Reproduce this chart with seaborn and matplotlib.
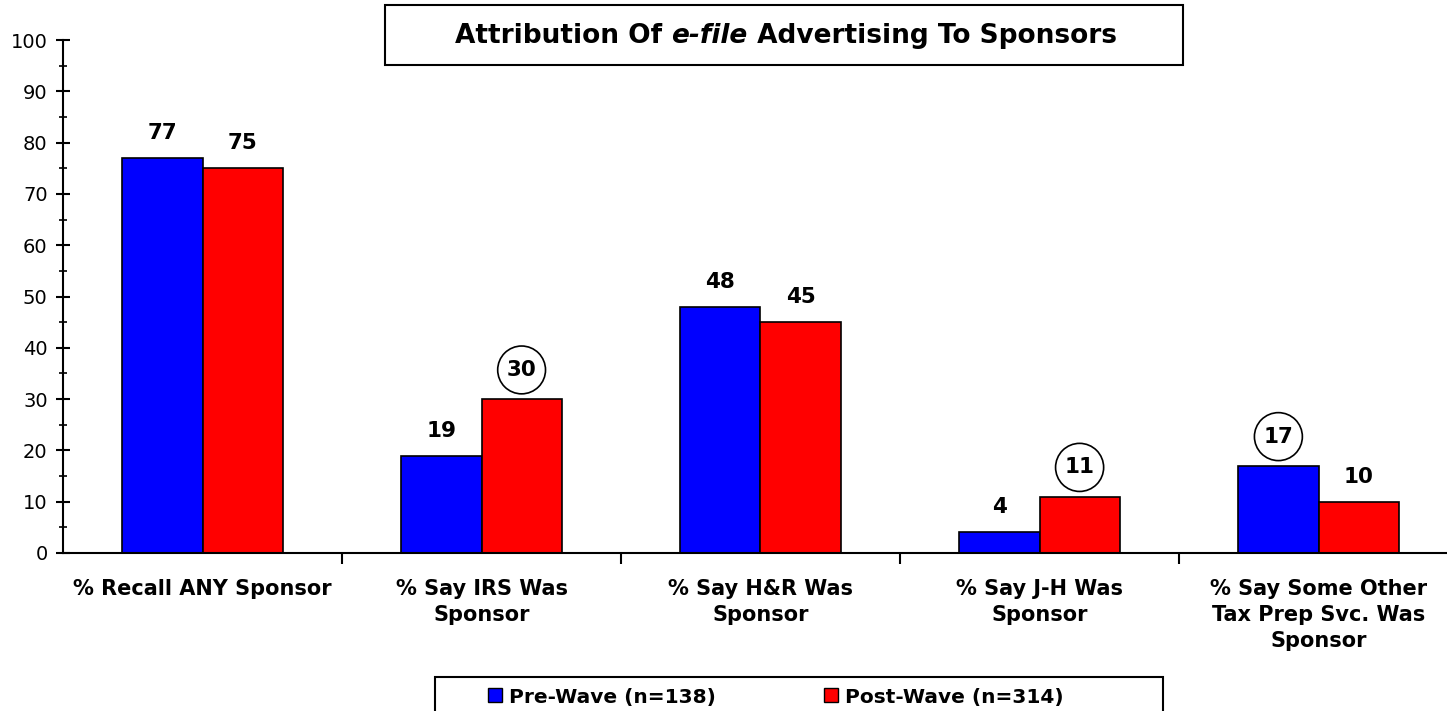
import matplotlib
matplotlib.use("Agg")
import matplotlib.pyplot as plt
import seaborn as sns
import pandas as pd
from matplotlib.patches import Rectangle, Patch
from matplotlib.ticker import MultipleLocator, FixedLocator

categories = ["% Recall ANY Sponsor", "% Say IRS Was\nSponsor", "% Say H&R Was\nSponsor",
              "% Say J-H Was\nSponsor", "% Say Some Other\nTax Prep Svc. Was\nSponsor"]
series_names = ["Pre-Wave (n=138)", "Post-Wave (n=314)"]
pre_values = [77, 19, 48, 4, 17]
post_values = [75, 30, 45, 11, 10]
circled = {("Post-Wave (n=314)", 1), ("Post-Wave (n=314)", 3), ("Pre-Wave (n=138)", 4)}
colors = ["#0000FF", "#FF0000"]

rows = []
for i, c in enumerate(categories):
    rows.append({"cat": c, "series": series_names[0], "val": pre_values[i]})
    rows.append({"cat": c, "series": series_names[1], "val": post_values[i]})
df = pd.DataFrame(rows)

sns.set_style("white")
plt.rcParams['font.family'] = ['DejaVu Sans']
plt.rcParams['text.color'] = 'black'
plt.rcParams['xtick.color'] = 'black'
plt.rcParams['ytick.color'] = 'black'
plt.rcParams['axes.labelcolor'] = 'black'

W, H = 1447, 711
fig = plt.figure(figsize=(W / 100, H / 100), dpi=100)
ax_left = 63 / W
ax_w = (1458 - 63) / W
ax = fig.add_axes([ax_left, (H - 553) / H, ax_w, (553 - 40) / H])

sns.barplot(data=df, x="cat", y="val", hue="series", palette=colors, ax=ax,
            width=0.575, edgecolor="black", linewidth=1.2, saturation=1, legend=False)

ax.set_xlim(-0.5, len(categories) - 0.5)
ax.set_ylim(0, 100)
ax.set_xlabel("")
ax.set_ylabel("")
for s in ["top", "right"]:
    ax.spines[s].set_visible(False)
for s in ["left", "bottom"]:
    ax.spines[s].set_color("black")
    ax.spines[s].set_linewidth(1.5)

ax.yaxis.set_major_locator(MultipleLocator(10))
ax.yaxis.set_minor_locator(MultipleLocator(5))
ax.tick_params(axis="y", which="major", direction="inout", length=10, width=1.5, labelsize=14, pad=6)
ax.tick_params(axis="y", which="minor", direction="inout", length=6, width=1.2)
ax.tick_params(axis="y", which="both", left=True)

ax.set_xticks(range(len(categories)))
ax.set_xticklabels(categories, fontweight="bold", fontsize=15, linespacing=1.36)
ax.tick_params(axis="x", which="major", length=0, pad=19)
ax.xaxis.set_minor_locator(FixedLocator([i + 0.5 for i in range(len(categories) - 1)]))
ax.tick_params(axis="x", which="minor", direction="out", length=8, width=1.5, bottom=True)

for ci, cont in enumerate(ax.containers):
    sname = series_names[ci]
    vals = pre_values if ci == 0 else post_values
    for j, bar in enumerate(cont):
        x = bar.get_x() + bar.get_width() / 2
        y = bar.get_height()
        if (sname, j) in circled:
            ax.annotate(str(vals[j]), (x, y), xytext=(0, 21), textcoords="offset points",
                        ha="center", va="center", fontsize=15.5, fontweight="bold",
                        bbox=dict(boxstyle="circle,pad=0.42", fc="white", ec="black", lw=1.2))
        else:
            ax.annotate(str(vals[j]), (x, y), xytext=(0, 18), textcoords="offset points",
                        ha="center", va="center", fontsize=15.5, fontweight="bold")

# Title box
fig.patches.append(Rectangle((385 / W, 1 - 65 / H), (1183 - 385) / W, 60 / H,
                             transform=fig.transFigure, fc="white", ec="black", lw=1.5))
fig.canvas.draw()
renderer = fig.canvas.get_renderer()
parts = [("Attribution Of ", "normal"), ("e-file", "italic"), (" Advertising To Sponsors", "normal")]
texts = []
for s, st in parts:
    t = fig.text(0, 1 - 36 / H, s, fontsize=19, fontweight="bold", style=st,
                 ha="left", va="center", transform=fig.transFigure)
    texts.append(t)
widths = [t.get_window_extent(renderer).width for t in texts]
total = sum(widths)
start = 786 - total / 2
for t, w in zip(texts, widths):
    t.set_x(start / W)
    start += w

# Legend frame
fig.patches.append(Rectangle((435 / W, -10 / H), (1163 - 435) / W, (10 + 711 - 677) / H,
                             transform=fig.transFigure, fc="white", ec="black", lw=1.5))
handles = [Patch(facecolor=colors[0], edgecolor="black"), Patch(facecolor=colors[1], edgecolor="black")]
fs_leg = 14.5
fs_px = fs_leg * 100 / 72
leg = fig.legend(handles, series_names, loc="center left",
                 bbox_to_anchor=(488 / W, 1 - 697 / H),
                 ncol=2, frameon=False,
                 prop={"weight": "bold", "size": fs_leg}, handlelength=14 / fs_px, handleheight=14 / fs_px,
                 handletextpad=7 / fs_px, columnspacing=108 / fs_px, borderpad=0, borderaxespad=0)

fig.savefig("out.png", dpi=100)
